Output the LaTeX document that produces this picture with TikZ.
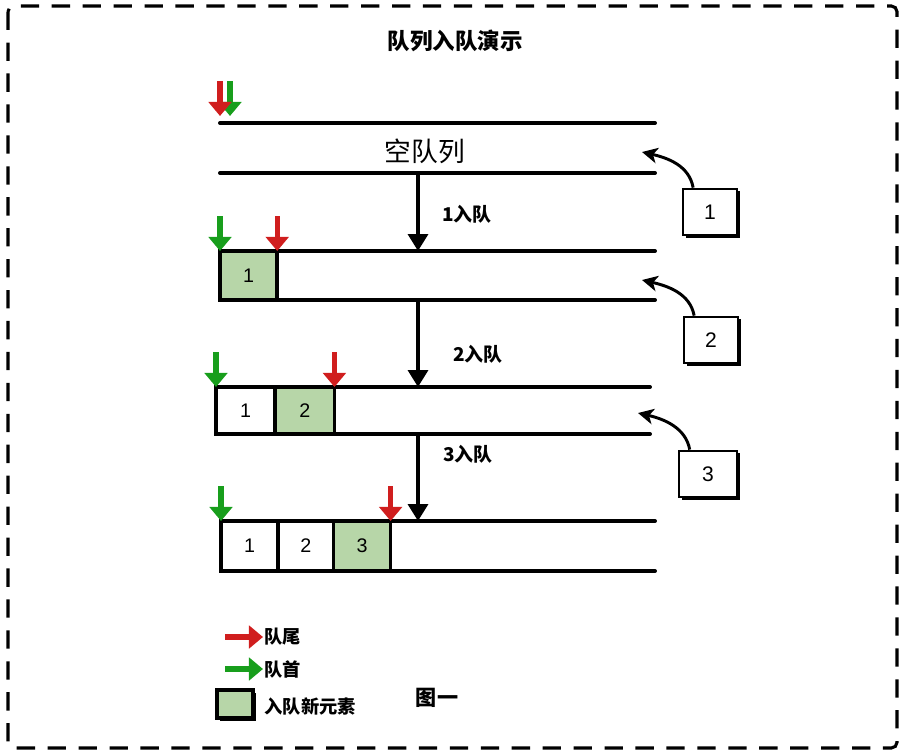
\documentclass[tikz,border=0pt]{standalone}
\usepackage{fontspec}
\setmainfont{Liberation Sans}
\newfontfamily\cjk{Noto Sans CJK SC}
\usepackage{tikz}
\usetikzlibrary{arrows.meta,shadows,positioning}
\definecolor{tailred}{RGB}{208,30,30}
\definecolor{headgreen}{RGB}{24,158,28}
\definecolor{newgreen}{RGB}{183,214,168}
\newcommand\Drop{35}
\newcommand\Ptr[2]{\draw[#1] ([shift={(0,-\Drop)}]#2) -- (#2);}
\tikzset{
  qline/.style={
    line width = 2.8pt,
    line cap = round
  },
  cell/.style={
    draw,
    line width = 2.6pt,
    inner sep = 0pt,
    outer sep = 0pt,
    minimum width = 1.43cm,
    minimum height = 1.22cm,
    font = \fontsize{14}{14}\selectfont
  },
  newcell/.style={
    cell,
    fill = newgreen
  },
  loosebox/.style={
    draw,
    fill = white,
    line width = 1.4pt,
    inner sep = 0pt,
    minimum width = 1.36cm,
    minimum height = 1.17cm,
    font = \fontsize{15}{15}\selectfont,
    drop shadow = {shadow xshift=2pt, shadow yshift=-2pt, fill=black, opacity=1}
  },
}
\tikzset{
  tailptr/.style={
    draw = tailred,
    line width = 3.6pt,
    -{Triangle[length=10pt,width=16pt]}
  },
  headptr/.style={
    tailptr,
    draw = headgreen
  },
  enq/.style={
    line width = 2.8pt,
    -{Triangle[length=12pt,width=14pt]}
  },
  curvy/.style={
    line width = 2.1pt,
    -{Stealth[length=11pt,width=11pt,inset=3pt]}
  },
  frame/.style={
    line width = 2.2pt,
    dash pattern = on 13pt off 9pt,
    rounded corners = 4pt
  },
  title/.style={
    font = \cjk\bfseries\fontsize{16}{16}\selectfont
  },
  bigtext/.style={
    font = \cjk\fontsize{19}{19}\selectfont
  },
  steplabel/.style={
    font = \cjk\bfseries\fontsize{13.5}{13.5}\selectfont
  },
  legtext/.style={
    font = \cjk\bfseries\fontsize{13}{13}\selectfont,
    inner sep = 1pt
  }
}

\begin{document}
\begin{tikzpicture}[x=0.025cm,y=-0.025cm]
    \useasboundingbox (0,0) rectangle (908,756);
    \draw[frame] (8,6) rectangle (897,748);

    \node[title] (title) at (455,41) {队列入队演示};

    % empty queue
    \coordinate (q1tl) at (220,123);
    \coordinate (q1tr) at (655,123);
    \coordinate (q1bl) at (220,173);
    \coordinate (q1br) at (655,173);
    \draw[qline] (q1tl) -- (q1tr);
    \draw[qline] (q1bl) -- (q1br);
    \node[bigtext] (empty) at (425,151) {空队列};
    \coordinate (q1head) at (230,116);
    \coordinate (q1tail) at (220,116);
    \Ptr{headptr}{q1head}
    \Ptr{tailptr}{q1tail}

    % after 1
    \coordinate (q2tl) at (220,251);
    \coordinate (q2tr) at (655,251);
    \coordinate (q2bl) at (220,300);
    \coordinate (q2br) at (655,300);
    \node[newcell, anchor=north west] (q2c1) at (q2tl) {1};
    \draw[qline] (q2tl) -- (q2tr);
    \draw[qline] (q2bl) -- (q2br);
    \Ptr{headptr}{q2c1.north west}
    \Ptr{tailptr}{q2c1.north east}

    % after 2
    \coordinate (q3tl) at (216,387);
    \coordinate (q3tr) at (650,387);
    \coordinate (q3bl) at (216,434);
    \coordinate (q3br) at (650,434);
    \node[cell, anchor=north west, minimum height=1.175cm, minimum width=1.48cm] (q3c1) at (q3tl) {1};
    \node[newcell, right=0pt of q3c1, minimum height=1.175cm, minimum width=1.48cm] (q3c2) {2};
    \draw[qline] (q3tl) -- (q3tr);
    \draw[qline] (q3bl) -- (q3br);
    \Ptr{headptr}{q3c1.north west}
    \Ptr{tailptr}{q3c2.north east}

    % after 3
    \coordinate (q4tl) at (221,521);
    \coordinate (q4tr) at (655,521);
    \coordinate (q4bl) at (221,571);
    \coordinate (q4br) at (655,571);
    \node[cell, anchor=north west, minimum height=1.25cm] (q4c1) at (q4tl) {1};
    \node[cell, right=0pt of q4c1, minimum height=1.25cm, minimum width=1.38cm] (q4c2) {2};
    \node[newcell, right=0pt of q4c2, minimum height=1.25cm] (q4c3) {3};
    \draw[qline] (q4tl) -- (q4tr);
    \draw[qline] (q4bl) -- (q4br);
    \Ptr{headptr}{q4c1.north west}
    \Ptr{tailptr}{q4c3.north east}

    % enqueue steps
    \coordinate (d1a) at (418,173);
    \coordinate (d1b) at (418,251);
    \coordinate (d2a) at (418,300);
    \coordinate (d2b) at (418,387);
    \coordinate (d3a) at (418,434);
    \coordinate (d3b) at (418,521);
    \draw[enq] (d1a) -- (d1b);
    \draw[enq] (d2a) -- (d2b);
    \draw[enq] (d3a) -- (d3b);
    \node[steplabel] (s1) at (467,214) {1入队};
    \node[steplabel] (s2) at (478,354) {2入队};
    \node[steplabel] (s3) at (468,454) {3入队};

    % incoming elements
    \node[loosebox] (b1) at (710,212) {1};
    \node[loosebox] (b2) at (711,340) {2};
    \node[loosebox, minimum width=1.45cm] (b3) at (708,474) {3};
    \coordinate (b1t) at (642,152);
    \coordinate (b2t) at (642,280);
    \coordinate (b3t) at (638,413);
    \draw[curvy] ([xshift=-12pt]b1.north) .. controls +(-4,-22) and +(26,6) .. (b1t);
    \draw[curvy] ([xshift=-12pt]b2.north) .. controls +(-4,-22) and +(26,6) .. (b2t);
    \draw[curvy] ([xshift=-13pt]b3.north) .. controls +(-4,-22) and +(26,6) .. (b3t);

    % legend
    \node[legtext, anchor=west] (ltail) at (263,637) {队尾};
    \node[legtext, anchor=west] (lhead) at (263,669) {队首};
    \draw[tailptr] ([shift={(-38,0)}]ltail.west) -- (ltail.west);
    \draw[headptr] ([shift={(-38,0)}]lhead.west) -- (lhead.west);
    \node[loosebox, fill=newgreen, line width=2.4pt, minimum width=0.9cm, minimum height=0.7cm] (lnew) at (235,704) {};
    \node[legtext, anchor=west] (lnewt) at (263,707) {入队新元素};
    \node[legtext, font=\cjk\bfseries\fontsize{15}{15}\selectfont] (fig) at (437,698) {图一};
\end{tikzpicture}
\end{document}
